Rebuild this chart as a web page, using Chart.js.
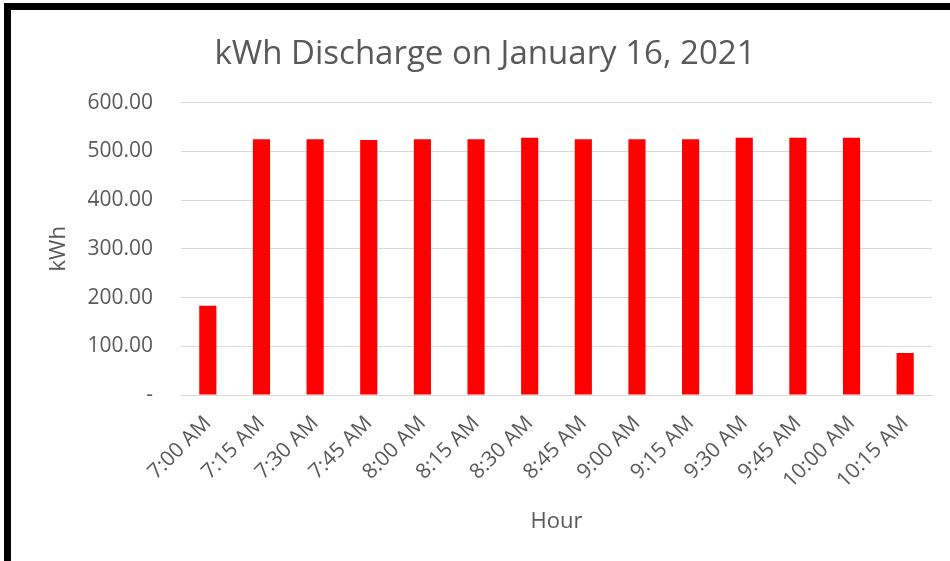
<!DOCTYPE html>
<html>
<head>
<meta charset="utf-8">
<script src="https://cdn.jsdelivr.net/npm/chart.js@4"></script>
<style>
  html, body { margin: 0; padding: 0; background: #fff; }
  #frame {
    position: absolute; left: 4px; top: 3px;
    width: 939px; height: 551px;
    border-top: 7px solid #000; border-left: 7px solid #000;
  }
  canvas { display: block; }
</style>
</head>
<body>
<div id="frame"><canvas id="chart" width="939" height="551"></canvas></div>
<script>
// kWh discharged per 15 minute slot
const hours = ['7:00 AM', '7:15 AM', '7:30 AM', '7:45 AM', '8:00 AM', '8:15 AM', '8:30 AM',
  '8:45 AM', '9:00 AM', '9:15 AM', '9:30 AM', '9:45 AM', '10:00 AM', '10:15 AM'];
const kwh = [183, 525, 525, 523, 525, 525, 528, 525, 525, 525, 528, 528, 528, 86];
const yTicks = [0, 100, 200, 300, 400, 500, 600];

const grey = '#595959';
const font = 'Open Sans';

new Chart(document.getElementById('chart'), {
  type: 'bar',
  data: {
    labels: hours,
    datasets: [{
      label: 'kWh',
      data: kwh,
      backgroundColor: '#ff0000',
      categoryPercentage: 1,
      barPercentage: 0.32
    }]
  },
  options: {
    responsive: false,
    animation: false,
    layout: { padding: { left: 27, right: 18, top: 0, bottom: 0 } },
    plugins: {
      legend: { display: false },
      tooltip: { enabled: false },
      title: {
        display: true,
        text: 'kWh Discharge on January 16, 2021',
        color: grey,
        font: { family: font, size: 33, weight: 'normal' },
        padding: { top: 25, bottom: 28 }
      }
    },
    scales: {
      x: {
        grid: { display: false },
        border: { color: '#d9d9d9' },
        ticks: {
          color: grey, font: { family: font, size: 21 },
          minRotation: 45, maxRotation: 45, padding: 8
        },
        title: {
          display: true, text: 'Hour', color: grey,
          font: { family: font, size: 22 },
          padding: { top: 0, bottom: 26 }
        },
        afterFit: s => { s.height = 166; }
      },
      y: {
        min: 0, max: 600,
        afterBuildTicks: s => { s.ticks = yTicks.map(v => ({ value: v })); },
        grid: { color: '#d9d9d9', drawTicks: false },
        border: { display: false },
        ticks: {
          color: grey, font: { family: font, size: 21 }, padding: 28,
          callback: v => v === 0 ? '-' : v.toFixed(2)
        },
        title: {
          display: true, text: 'kWh', color: grey,
          font: { family: font, size: 22 },
          padding: { top: 8, bottom: 0 }
        },
        afterFit: s => { s.width = 143; }
      }
    }
  }
});
</script>
</body>
</html>
